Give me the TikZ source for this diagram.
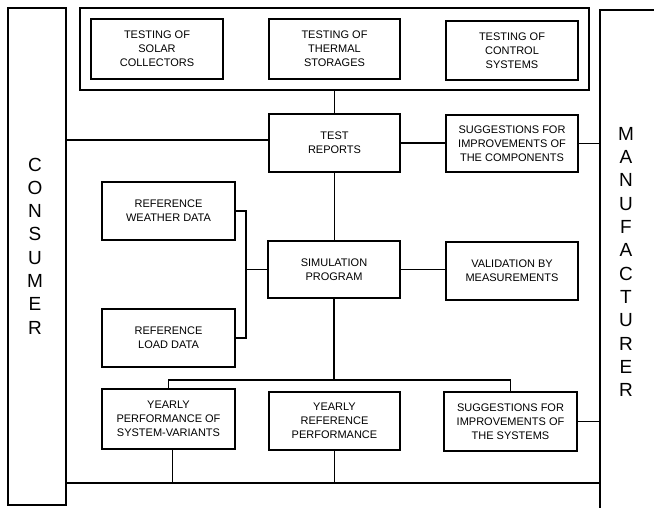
\documentclass[tikz,border=0pt]{standalone}
\usepackage{fontspec}
\setmainfont{Liberation Sans}
\begin{document}
\begin{tikzpicture}[x=1pt,y=-1pt,
  box/.style={draw, line width=2.6pt, align=center, inner sep=0pt,
    font=\fontsize{11}{14}\selectfont},
  conn/.style={line width=1.6pt},
  side/.style={align=center, inner sep=0pt, font=\fontsize{19}{23.3}\selectfont}]
\useasboundingbox[fill=white] (0,0) rectangle (654,508);
% outer frame of the component tests
\node[draw, line width=1.3pt, minimum width=509pt, minimum height=82pt] (frame) at (334.5,49) {};
\node[box, minimum width=132pt, minimum height=60pt] (solar) at (157,49) {TESTING OF\\SOLAR\\COLLECTORS};
\node[box, minimum width=131pt, minimum height=60pt] (thermal) at (334.5,49) {TESTING OF\\THERMAL\\STORAGES};
\node[box, minimum width=132pt, minimum height=59pt] (control) at (512,50.5) {TESTING OF\\CONTROL\\SYSTEMS};
% consumer and manufacturer
\node[draw, line width=2.5pt, minimum width=58pt, minimum height=497pt] (consumer) at (37,256.5) {};
\node[side] (consumerlabel) at (35,246) {C\\O\\N\\S\\U\\M\\E\\R};
\node[minimum width=58pt, minimum height=498pt, inner sep=0pt] (manuf) at (629,259) {};
\draw[line width=2.5pt] (manuf.north east) -- (manuf.north west) -- (manuf.south west);
\node[side] (manuflabel) at (626,262) {M\\A\\N\\U\\F\\A\\C\\T\\U\\R\\E\\R};
% middle row
\node[box, minimum width=131pt, minimum height=58pt] (reports) at (334.5,143) {TEST\\REPORTS};
\node[box, minimum width=132pt, minimum height=57pt] (sugcomp) at (512,143.5) {SUGGESTIONS FOR\\IMPROVEMENTS OF\\THE COMPONENTS};
\node[box, minimum width=133pt, minimum height=58pt] (weather) at (168.5,211) {REFERENCE\\WEATHER DATA};
\node[box, minimum width=132pt, minimum height=57pt] (sim) at (334,269.5) {SIMULATION\\PROGRAM};
\node[box, minimum width=132pt, minimum height=58pt] (valid) at (512,271) {VALIDATION BY\\MEASUREMENTS};
\node[box, minimum width=133pt, minimum height=58pt] (load) at (168.5,338) {REFERENCE\\LOAD DATA};
% bottom row
\node[box, minimum width=133pt, minimum height=60pt] (yvar) at (168.5,419) {YEARLY\\PERFORMANCE OF\\SYSTEM-VARIANTS};
\node[box, minimum width=131pt, minimum height=58pt] (yref) at (334.5,421) {YEARLY\\REFERENCE\\PERFORMANCE};
\node[box, minimum width=133pt, minimum height=59pt] (sugsys) at (510.5,421.5) {SUGGESTIONS FOR\\IMPROVEMENTS OF\\THE SYSTEMS};
% helper coordinates
\coordinate (wl) at (246,0);
\coordinate (bus) at (0,380);
\coordinate (bot) at (0,483);
% connectors
\draw[conn] (frame.south -| reports.north) -- (reports.north);
\draw[conn] ([yshift=3pt]reports.west -| consumer.east) -- ([yshift=3pt]reports.west);
\draw[conn] (reports.east) -- (reports.east -| sugcomp.west);
\draw[conn] (sugcomp.east) -- (sugcomp.east -| manuf.west);
\draw[conn] (reports.south) -- (reports.south |- sim.north);
\draw[conn] (weather.east) -- (weather.east -| wl) -- (load.east -| wl) -- (load.east);
\draw[conn] (sim.west -| wl) -- (sim.west);
\draw[conn] (sim.east) -- (sim.east -| valid.west);
\draw[conn] (sim.south) -- (sim.south |- bus);
\draw[conn] (yvar.north) -- (yvar.north |- bus) -- (sugsys.north |- bus) -- (sugsys.north);
\draw[conn] (sugsys.east) -- (sugsys.east -| manuf.west);
\draw[conn] (consumer.east |- bot) -- (manuf.west |- bot);
\draw[conn] ([xshift=4pt]yvar.south) -- ([xshift=4pt]yvar.south |- bot);
\draw[conn] (yref.south) -- (yref.south |- bot);
\end{tikzpicture}
\end{document}
